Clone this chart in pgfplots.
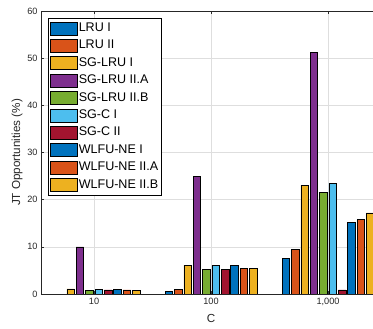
\documentclass[border=0pt]{standalone}
\usepackage{pgfplots}
\pgfplotsset{compat=1.18}
\usepackage{fontspec}
\setmainfont{Liberation Sans}
\definecolor{c1}{rgb}{0,0.447,0.741}
\definecolor{c2}{rgb}{0.85,0.325,0.098}
\definecolor{c3}{rgb}{0.929,0.694,0.125}
\definecolor{c4}{rgb}{0.494,0.184,0.556}
\definecolor{c5}{rgb}{0.466,0.674,0.188}
\definecolor{c6}{rgb}{0.301,0.745,0.933}
\definecolor{c7}{rgb}{0.635,0.078,0.184}
\definecolor{axc}{rgb}{0.15,0.15,0.15}
\pgfplotsset{
  bstyle/.style={ybar, bar width=0.064, draw=black, line width=0.5bp,
    legend image code/.code={\draw[##1,draw=black,line width=0.5bp] (0bp,-6.5bp) rectangle (27bp,6.5bp);}},
}
\begin{document}
\begin{tikzpicture}
\begin{scope}
\clip (-41bp,-35bp) rectangle (332bp,294bp);
\begin{axis}[
  scale only axis, width=340bp, height=283bp,
  xmin=0.547, xmax=3.453, ymin=0, ymax=60,
  enlargelimits=false,
  xtick={1,2,3}, xticklabels={10,100,{1,000}},
  ytick={0,10,...,60},
  tick align=inside,
  major tick length=3.4bp,
  grid=major, major grid style={draw=black!13, line width=0.5bp},
  axis line style={draw=axc, line width=0.5bp},
  every tick/.style={draw=axc, line width=0.5bp},
  tick label style={font=\fontsize{9.2}{10}\selectfont, text=axc},
  xticklabel style={anchor=north, inner sep=0pt, text height=6.6bp, text depth=0bp, yshift=-4bp},
  /pgf/number format/assume math mode=true,
  xlabel={C}, ylabel={JT Opportunities (\%)},
  label style={font=\fontsize{11.7}{13}\selectfont, text=axc},
  ylabel style={at={(axis description cs:-0.0706,0.5)}, anchor=center},
  xlabel style={at={(axis description cs:0.5,-0.088)}, anchor=center},
  legend cell align=left,
  legend style={at={(axis description cs:0.0206,0.9753)}, anchor=north west,
    draw=black, line width=0.5bp, font=\fontsize{12.6}{14}\selectfont,
    inner sep=1.5bp, row sep=0pt,
    nodes={inner xsep=1.5bp, inner ysep=2.7bp, text height=9bp, text depth=3bp}},
]
\addplot[bstyle, fill=c1, bar shift=-0.36] coordinates {(1,0) (2,0.5) (3,7.5)};
\addplot[bstyle, fill=c2, bar shift=-0.28] coordinates {(1,0) (2,1.0) (3,9.5)};
\addplot[bstyle, fill=c3, bar shift=-0.20] coordinates {(1,1.1) (2,6.1) (3,23.1)};
\addplot[bstyle, fill=c4, bar shift=-0.12] coordinates {(1,10.0) (2,25.0) (3,51.2)};
\addplot[bstyle, fill=c5, bar shift=-0.04] coordinates {(1,0.7) (2,5.2) (3,21.6)};
\addplot[bstyle, fill=c6, bar shift=0.04] coordinates {(1,1.0) (2,6.0) (3,23.5)};
\addplot[bstyle, fill=c7, bar shift=0.12] coordinates {(1,0.9) (2,5.15) (3,0.85)};
\addplot[bstyle, fill=c1, bar shift=0.20] coordinates {(1,1.0) (2,6.0) (3,15.2)};
\addplot[bstyle, fill=c2, bar shift=0.28] coordinates {(1,0.9) (2,5.4) (3,15.8)};
\addplot[bstyle, fill=c3, bar shift=0.36] coordinates {(1,0.8) (2,5.4) (3,17.2)};
\legend{LRU I, LRU II, SG-LRU I, SG-LRU II.A, SG-LRU II.B, SG-C I, SG-C II, WLFU-NE I, WLFU-NE II.A, WLFU-NE II.B}
\end{axis}
\end{scope}
\pgfresetboundingbox
\path[use as bounding box] (-41bp,-35bp) rectangle (332bp,294bp);
\end{tikzpicture}
\end{document}
